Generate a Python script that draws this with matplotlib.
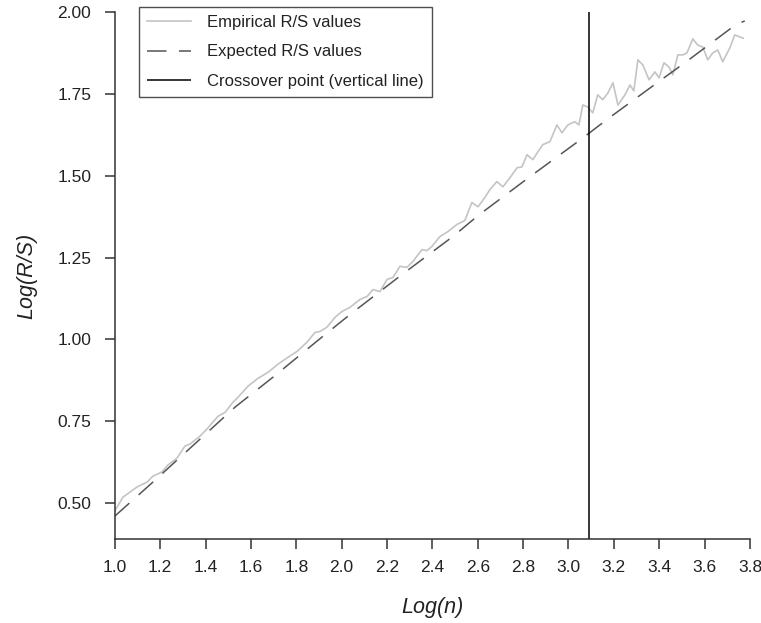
import matplotlib
matplotlib.use("Agg")
import matplotlib.pyplot as plt

plt.rcParams["font.family"] = ["Liberation Sans", "DejaVu Sans"]
plt.rcParams["lines.scale_dashes"] = False

# empirical R/S curve
log_n = [1.0, 1.036, 1.098, 1.142, 1.168, 1.208, 1.234, 1.274, 1.309, 1.331,
         1.375, 1.406, 1.432, 1.455, 1.486, 1.521, 1.543, 1.587, 1.631, 1.675,
         1.719, 1.763, 1.803, 1.847, 1.882, 1.904, 1.935, 1.970, 2.001, 2.037,
         2.081, 2.112, 2.138, 2.169, 2.200, 2.226, 2.257, 2.288, 2.314, 2.354,
         2.376, 2.398, 2.433, 2.468, 2.508, 2.543, 2.574, 2.601, 2.631, 2.653,
         2.684, 2.711, 2.742, 2.773, 2.795, 2.817, 2.843, 2.865, 2.887, 2.918,
         2.949, 2.971, 2.997, 3.028, 3.046, 3.063, 3.085, 3.107, 3.129, 3.151,
         3.174, 3.196, 3.218, 3.249, 3.271, 3.288, 3.306, 3.328, 3.355, 3.381,
         3.399, 3.421, 3.443, 3.460, 3.482, 3.504, 3.522, 3.548, 3.570, 3.592,
         3.614, 3.636, 3.658, 3.680, 3.711, 3.733, 3.755, 3.770]
log_rs = [0.476, 0.518, 0.549, 0.564, 0.582, 0.595, 0.616, 0.637, 0.674, 0.680,
          0.704, 0.726, 0.747, 0.765, 0.777, 0.808, 0.823, 0.857, 0.881, 0.899,
          0.924, 0.945, 0.963, 0.991, 1.021, 1.024, 1.037, 1.067, 1.085, 1.098,
          1.122, 1.131, 1.152, 1.146, 1.183, 1.189, 1.223, 1.220, 1.238, 1.274,
          1.271, 1.284, 1.314, 1.329, 1.351, 1.363, 1.418, 1.405, 1.433, 1.457,
          1.482, 1.466, 1.494, 1.524, 1.527, 1.564, 1.549, 1.573, 1.595, 1.604,
          1.655, 1.631, 1.655, 1.665, 1.655, 1.716, 1.710, 1.692, 1.747, 1.732,
          1.753, 1.784, 1.716, 1.747, 1.777, 1.759, 1.854, 1.838, 1.793, 1.817,
          1.799, 1.845, 1.832, 1.808, 1.869, 1.869, 1.875, 1.918, 1.899, 1.893,
          1.854, 1.875, 1.884, 1.848, 1.890, 1.930, 1.924, 1.920]

# expected R/S curve
exp_n = [1.0, 1.168, 1.380, 1.530, 1.702, 1.922, 2.037, 2.266, 2.490, 2.601,
         2.830, 3.059, 3.174, 3.403, 3.513, 3.729, 3.777]
exp_rs = [0.460, 0.564, 0.698, 0.793, 0.887, 1.012, 1.076, 1.198, 1.314, 1.378,
          1.497, 1.613, 1.674, 1.790, 1.845, 1.957, 1.973]

crossover = 3.09

xticks = [1.0, 1.2, 1.4, 1.6, 1.8, 2.0, 2.2, 2.4, 2.6, 2.8, 3.0, 3.2, 3.4, 3.6, 3.8]
yticks = [0.50, 0.75, 1.00, 1.25, 1.50, 1.75, 2.00]

fig = plt.figure(figsize=(7.61, 6.23), dpi=100)
ax = fig.add_axes([0.1509, 0.1348, 0.8346, 0.8459])

ax.plot(log_n, log_rs, color="#c4c4c4", lw=1.2, label="Empirical R/S values")
ax.plot(exp_n, exp_rs, color="#555555", lw=1.1, dashes=(14, 9),
        label="Expected R/S values")
ax.vlines(crossover, 0.39, 2.0, color="black", lw=1.1,
          label="Crossover point (vertical line)")

ax.set_xlim(1.0, 3.8)
ax.set_ylim(0.39, 2.0)
ax.set_xticks(xticks)
ax.set_xticklabels([f"{t:.1f}" for t in xticks])
ax.set_yticks(yticks)
ax.set_yticklabels([f"{t:.2f}" for t in yticks])

for s in ["top", "right"]:
    ax.spines[s].set_visible(False)
for s in ["left", "bottom"]:
    ax.spines[s].set_color("#333333")
    ax.spines[s].set_linewidth(1.1)

ax.tick_params(axis="both", direction="out", length=7, width=1.1,
               color="#333333", labelsize=12.5, labelcolor="#222222")
ax.tick_params(axis="y", pad=10)
ax.tick_params(axis="x", pad=8)

ax.set_xlabel("Log(n)", fontsize=15.5, style="italic", labelpad=16, color="#222222")
ax.set_ylabel("Log(R/S)", fontsize=15.5, style="italic", labelpad=14, color="#222222")

leg = ax.legend(loc="upper left", bbox_to_anchor=(0.1827, 0.989),
                bbox_transform=fig.transFigure, fontsize=12, frameon=True,
                fancybox=False, borderpad=0.5, labelspacing=0.85,
                handlelength=2.6, handletextpad=1.0, borderaxespad=0)
leg.get_frame().set_edgecolor("#222222")
leg.get_frame().set_linewidth(1.0)
for t in leg.get_texts():
    t.set_color("#222222")

fig.savefig("out.png", dpi=100)
